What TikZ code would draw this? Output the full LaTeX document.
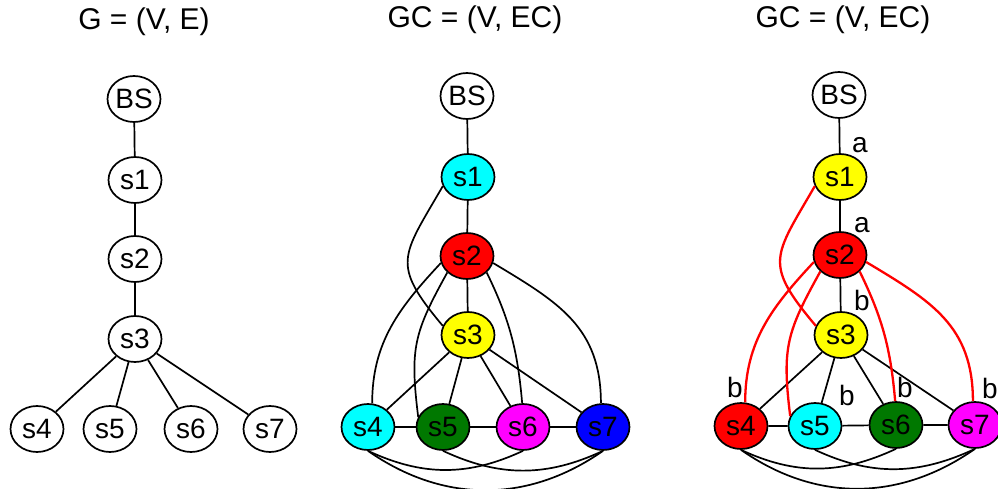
\documentclass[tikz,border=0pt]{standalone}
\usepackage{fontspec}
\setmainfont{Liberation Sans}
\usetikzlibrary{shapes.geometric}
\definecolor{vcyan}{RGB}{0,255,255}
\definecolor{vred}{RGB}{255,0,0}
\definecolor{vyellow}{RGB}{255,255,0}
\definecolor{vgreen}{RGB}{0,120,0}
\definecolor{vmagenta}{RGB}{255,0,255}
\definecolor{vblue}{RGB}{0,0,255}

\begin{document}
\begin{tikzpicture}[x=1pt,y=1pt,
  vtx/.style={ellipse,draw,line width=1.7pt,minimum width=53pt,minimum height=46pt,inner sep=0pt,font=\fontsize{28}{30}\selectfont},
  title/.style={inner sep=0pt,font=\fontsize{30}{33}\selectfont},
  lbl/.style={inner sep=0pt,font=\fontsize{28}{30}\selectfont},
  edge/.style={line width=1.7pt},
  redge/.style={line width=2.3pt,draw=vred}]
\path[use as bounding box] (0,0) rectangle (998,488);
% titles
\node[title] (t-g) at (144,466) {G = (V, E)};
\node[title] (t-gc) at (475,468) {GC = (V, EC)};
\node[title] (t-gl) at (843,468) {GC = (V, EC)};
% G = (V, E)
\node[vtx] (g-bs) at (134,389) {BS};
\node[vtx] (g-s1) at (135,308) {s1};
\node[vtx] (g-s2) at (135,229) {s2};
\node[vtx] (g-s3) at (135,149) {s3};
\node[vtx] (g-s4) at (37,59) {s4};
\node[vtx] (g-s5) at (110,59) {s5};
\node[vtx] (g-s6) at (191,59) {s6};
\node[vtx] (g-s7) at (270,59) {s7};
\draw[edge] (g-bs) -- (g-s1) -- (g-s2) -- (g-s3);
\draw[edge] (g-s3) -- (g-s4) (g-s3) -- (g-s5) (g-s3) -- (g-s6) (g-s3) -- (g-s7);
% GC = (V, EC)
\node[vtx] (gc-bs) at (467,392) {BS};
\node[vtx,fill=vcyan] (gc-s1) at (468,311) {s1};
\node[vtx,fill=vred] (gc-s2) at (467,232) {s2};
\node[vtx,fill=vyellow] (gc-s3) at (468,153) {s3};
\node[vtx,fill=vcyan] (gc-s4) at (368,61) {s4};
\node[vtx,fill=vgreen] (gc-s5) at (443,61) {s5};
\node[vtx,fill=vmagenta] (gc-s6) at (523,61) {s6};
\node[vtx,fill=vblue] (gc-s7) at (603,61) {s7};
\draw[edge] (gc-bs) -- (gc-s1) -- (gc-s2) -- (gc-s3);
\draw[edge] (gc-s3) -- (gc-s4) (gc-s3) -- (gc-s5) (gc-s3) -- (gc-s6) (gc-s3) -- (gc-s7);
\draw[edge] (gc-s4) -- (gc-s5) -- (gc-s6) -- (gc-s7);
\draw[edge] (gc-s1.200) to[out=240,in=130,looseness=1.5] (gc-s3.160);
\draw[edge] (gc-s2.195) to[out=227,in=90] (gc-s4.80);
\draw[edge] (gc-s2.220) to[out=241,in=97,looseness=1.2] (gc-s5.158);
\draw[edge] (gc-s2.-40) to[out=-64,in=95] (gc-s6.92);
\draw[edge] (gc-s2.-15) to[out=-31,in=90,looseness=1.1] (gc-s7.95);
\draw[edge] (gc-s4.south) to[out=-25,in=-155] (gc-s6.south);
\draw[edge] (gc-s5.south) to[out=-25,in=-155] (gc-s7.south);
\draw[edge] (gc-s4.south) to[out=-35,in=-145] (gc-s7.south);
% GC = (V, EC), labelled
\node[vtx] (gl-bs) at (839,393) {BS};
\node[vtx,fill=vyellow] (gl-s1) at (840,311) {s1};
\node[vtx,fill=vred] (gl-s2) at (840,233) {s2};
\node[vtx,fill=vyellow] (gl-s3) at (841,153) {s3};
\node[vtx,fill=vred] (gl-s4) at (741,62) {s4};
\node[vtx,fill=vcyan] (gl-s5) at (815,62) {s5};
\node[vtx,fill=vgreen] (gl-s6) at (896,63) {s6};
\node[vtx,fill=vmagenta] (gl-s7) at (975,63) {s7};
\draw[edge] (gl-bs) -- (gl-s1) -- (gl-s2) -- (gl-s3);
\draw[edge] (gl-s3) -- (gl-s4) (gl-s3) -- (gl-s5) (gl-s3) -- (gl-s6) (gl-s3) -- (gl-s7);
\draw[edge] (gl-s4) -- (gl-s5) -- (gl-s6) -- (gl-s7);
\draw[redge] (gl-s1.200) to[out=240,in=130,looseness=1.5] (gl-s3.160);
\draw[redge] (gl-s2.195) to[out=227,in=90] (gl-s4.80);
\draw[redge] (gl-s2.220) to[out=241,in=97,looseness=1.2] (gl-s5.158);
\draw[redge] (gl-s2.-40) to[out=-64,in=95] (gl-s6.92);
\draw[redge] (gl-s2.-15) to[out=-31,in=90,looseness=1.1] (gl-s7.95);
\draw[edge] (gl-s4.south) to[out=-25,in=-155] (gl-s6.south);
\draw[edge] (gl-s5.south) to[out=-25,in=-155] (gl-s7.south);
\draw[edge] (gl-s4.south) to[out=-35,in=-145] (gl-s7.south);
% channel labels
\node[lbl] (l-bs1) at (860,343) {a};
\node[lbl] (l-s12) at (862,263) {a};
\node[lbl] (l-s23) at (862,188) {b};
\node[lbl] (l-s4) at (735,101) {b};
\node[lbl] (l-s5) at (847,93) {b};
\node[lbl] (l-s6) at (905,101) {b};
\node[lbl] (l-s7) at (990,100) {b};
\end{tikzpicture}
\end{document}
